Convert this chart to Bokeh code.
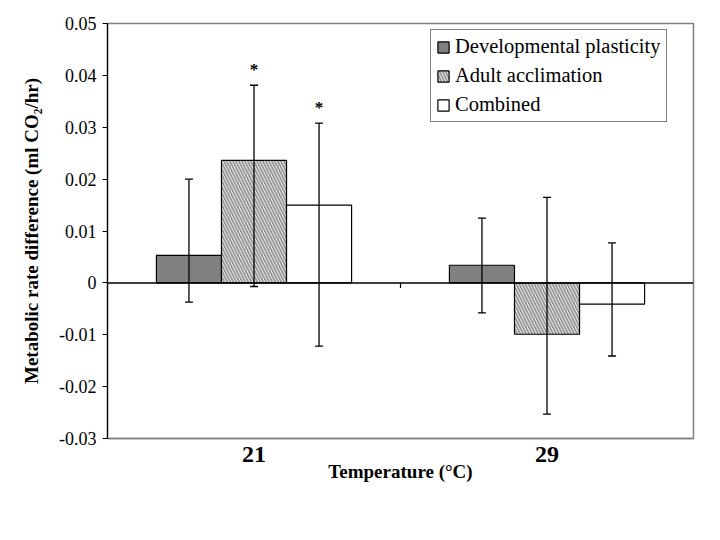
from bokeh.plotting import figure
from bokeh.models import (ColumnDataSource, FactorRange, Span, FixedTicker,
                          CustomJSTickFormatter, Legend, LegendItem, Range1d)
from bokeh.transform import dodge
from bokeh.core.properties import value
from bokeh.embed import file_html
from bokeh.resources import INLINE

temps = ["21", "29"]
series = ["Developmental plasticity", "Adult acclimation", "Combined"]
dev_mean = [0.0053, 0.0034]
dev_lower = [-0.0037, -0.0058]
dev_upper = [0.0200, 0.0125]
adult_mean = [0.0236, -0.0099]
adult_lower = [-0.0007, -0.0253]
adult_upper = [0.0381, 0.0165]
comb_mean = [0.0150, -0.0041]
comb_lower = [-0.0122, -0.0141]
comb_upper = [0.0308, 0.0077]
dev_sig = ["", ""]
adult_sig = ["*", ""]
comb_sig = ["*", ""]
y_ticks = [0.05, 0.04, 0.03, 0.02, 0.01, 0.0, -0.01, -0.02, -0.03]
y_tick_labels = ["0.05", "0.04", "0.03", "0.02", "0.01", "0", "-0.01", "-0.02", "-0.03"]

SERIF = "Liberation Serif"

source = ColumnDataSource(dict(
    temp=temps,
    dev=dev_mean, dev_lo=dev_lower, dev_hi=dev_upper, dev_sig=dev_sig,
    adult=adult_mean, adult_lo=adult_lower, adult_hi=adult_upper, adult_sig=adult_sig,
    comb=comb_mean, comb_lo=comb_lower, comb_hi=comb_upper, comb_sig=comb_sig,
))

p = figure(width=712, height=532, output_backend="svg", toolbar_location=None,
           x_range=FactorRange(factors=temps, range_padding=0),
           y_range=Range1d(-0.03, 0.05),
           min_border_left=107, min_border_right=19, min_border_top=23, min_border_bottom=94)

p.background_fill_color = "white"
p.border_fill_color = "white"
p.grid.visible = False
p.outline_line_color = "#808080"
p.outline_line_width = 1.5

bw = 0.222
offsets = [-bw, 0.0, bw]
cols = ["dev", "adult", "comb"]

r_dev = p.vbar(x=dodge("temp", offsets[0], range=p.x_range), top="dev", bottom=0, width=bw,
               source=source, fill_color="#808080", line_color="black", line_width=1.2)
r_adult = p.vbar(x=dodge("temp", offsets[1], range=p.x_range), top="adult", bottom=0, width=bw,
                 source=source, fill_color="white", line_color="black", line_width=1.2,
                 hatch_pattern="\\", hatch_color="#999999", hatch_scale=6, hatch_weight=2)
r_comb = p.vbar(x=dodge("temp", offsets[2], range=p.x_range), top="comb", bottom=0, width=bw,
                source=source, fill_color="white", line_color="black", line_width=1.2)
renderers = [r_dev, r_adult, r_comb]

zero = Span(location=0, dimension="width", line_color="black", line_width=1.5)
p.add_layout(zero)

# category separator tick on the zero line
p.segment(x0=[1.0], x1=[1.0], y0=[0.0], y1=[-0.001], line_color="black", line_width=1.2)

for c, off in zip(cols, offsets):
    xs = dodge("temp", off, range=p.x_range)
    p.segment(x0=xs, x1=xs, y0=c + "_lo", y1=c + "_hi", source=source,
              line_color="black", line_width=1.3)
    p.scatter(x=xs, y=c + "_hi", marker="dash", size=8, source=source,
              line_color="black", line_width=1.3)
    p.scatter(x=xs, y=c + "_lo", marker="dash", size=8, source=source,
              line_color="black", line_width=1.3)
    p.text(x=xs, y=c + "_hi", text=c + "_sig", source=source, text_align="center",
           text_baseline="alphabetic", y_offset=-16, text_font=value(SERIF),
           text_font_style="bold", text_font_size="17px", text_color="black")

# axes
p.yaxis.ticker = FixedTicker(ticks=y_ticks)
p.yaxis.formatter = CustomJSTickFormatter(args=dict(yt=y_ticks, yl=y_tick_labels), code="""
const i = yt.findIndex(t => Math.abs(t - tick) < 1e-9);
return i >= 0 ? yl[i] : '';
""")
p.yaxis.axis_line_color = "black"
p.yaxis.axis_line_width = 1.2
p.yaxis.major_tick_line_color = "black"
p.yaxis.major_tick_in = 0
p.yaxis.major_tick_out = 5
p.yaxis.minor_tick_line_color = None
p.yaxis.major_label_text_font = SERIF
p.yaxis.major_label_text_font_size = "18px"
p.yaxis.major_label_text_color = "black"
p.yaxis.major_label_standoff = 6
p.yaxis.axis_label = "Metabolic rate difference (ml CO\u2082/hr)"
p.yaxis.axis_label_text_font = SERIF
p.yaxis.axis_label_text_font_size = "19px"
p.yaxis.axis_label_text_font_style = "bold"
p.yaxis.axis_label_text_color = "black"
p.yaxis.axis_label_standoff = 14

p.xaxis.axis_line_color = "#808080"
p.xaxis.axis_line_width = 1.5
p.xaxis.major_tick_line_color = None
p.xaxis.minor_tick_line_color = None
p.xaxis.major_label_text_font = SERIF
p.xaxis.major_label_text_font_size = "24px"
p.xaxis.major_label_text_font_style = "bold"
p.xaxis.major_label_text_color = "black"
p.xaxis.major_label_standoff = 2
p.xaxis.axis_label = "Temperature (°C)"
p.xaxis.axis_label_text_font = SERIF
p.xaxis.axis_label_text_font_size = "19px"
p.xaxis.axis_label_text_font_style = "bold"
p.xaxis.axis_label_text_color = "black"
p.xaxis.axis_label_standoff = -4

legend = Legend(items=[LegendItem(label=s, renderers=[r]) for s, r in zip(series, renderers)],
                location=(323, 316))
legend.label_text_font = SERIF
legend.label_text_font_size = "20.5px"
legend.label_text_color = "black"
legend.glyph_width = 14
legend.glyph_height = 14
legend.label_height = 20
legend.label_standoff = 5
legend.spacing = 6
legend.padding = 5
legend.margin = 0
legend.border_line_color = "black"
legend.border_line_width = 1
legend.background_fill_color = "white"
legend.background_fill_alpha = 1
p.add_layout(legend)

open("out.html", "w").write(file_html(p, INLINE))
